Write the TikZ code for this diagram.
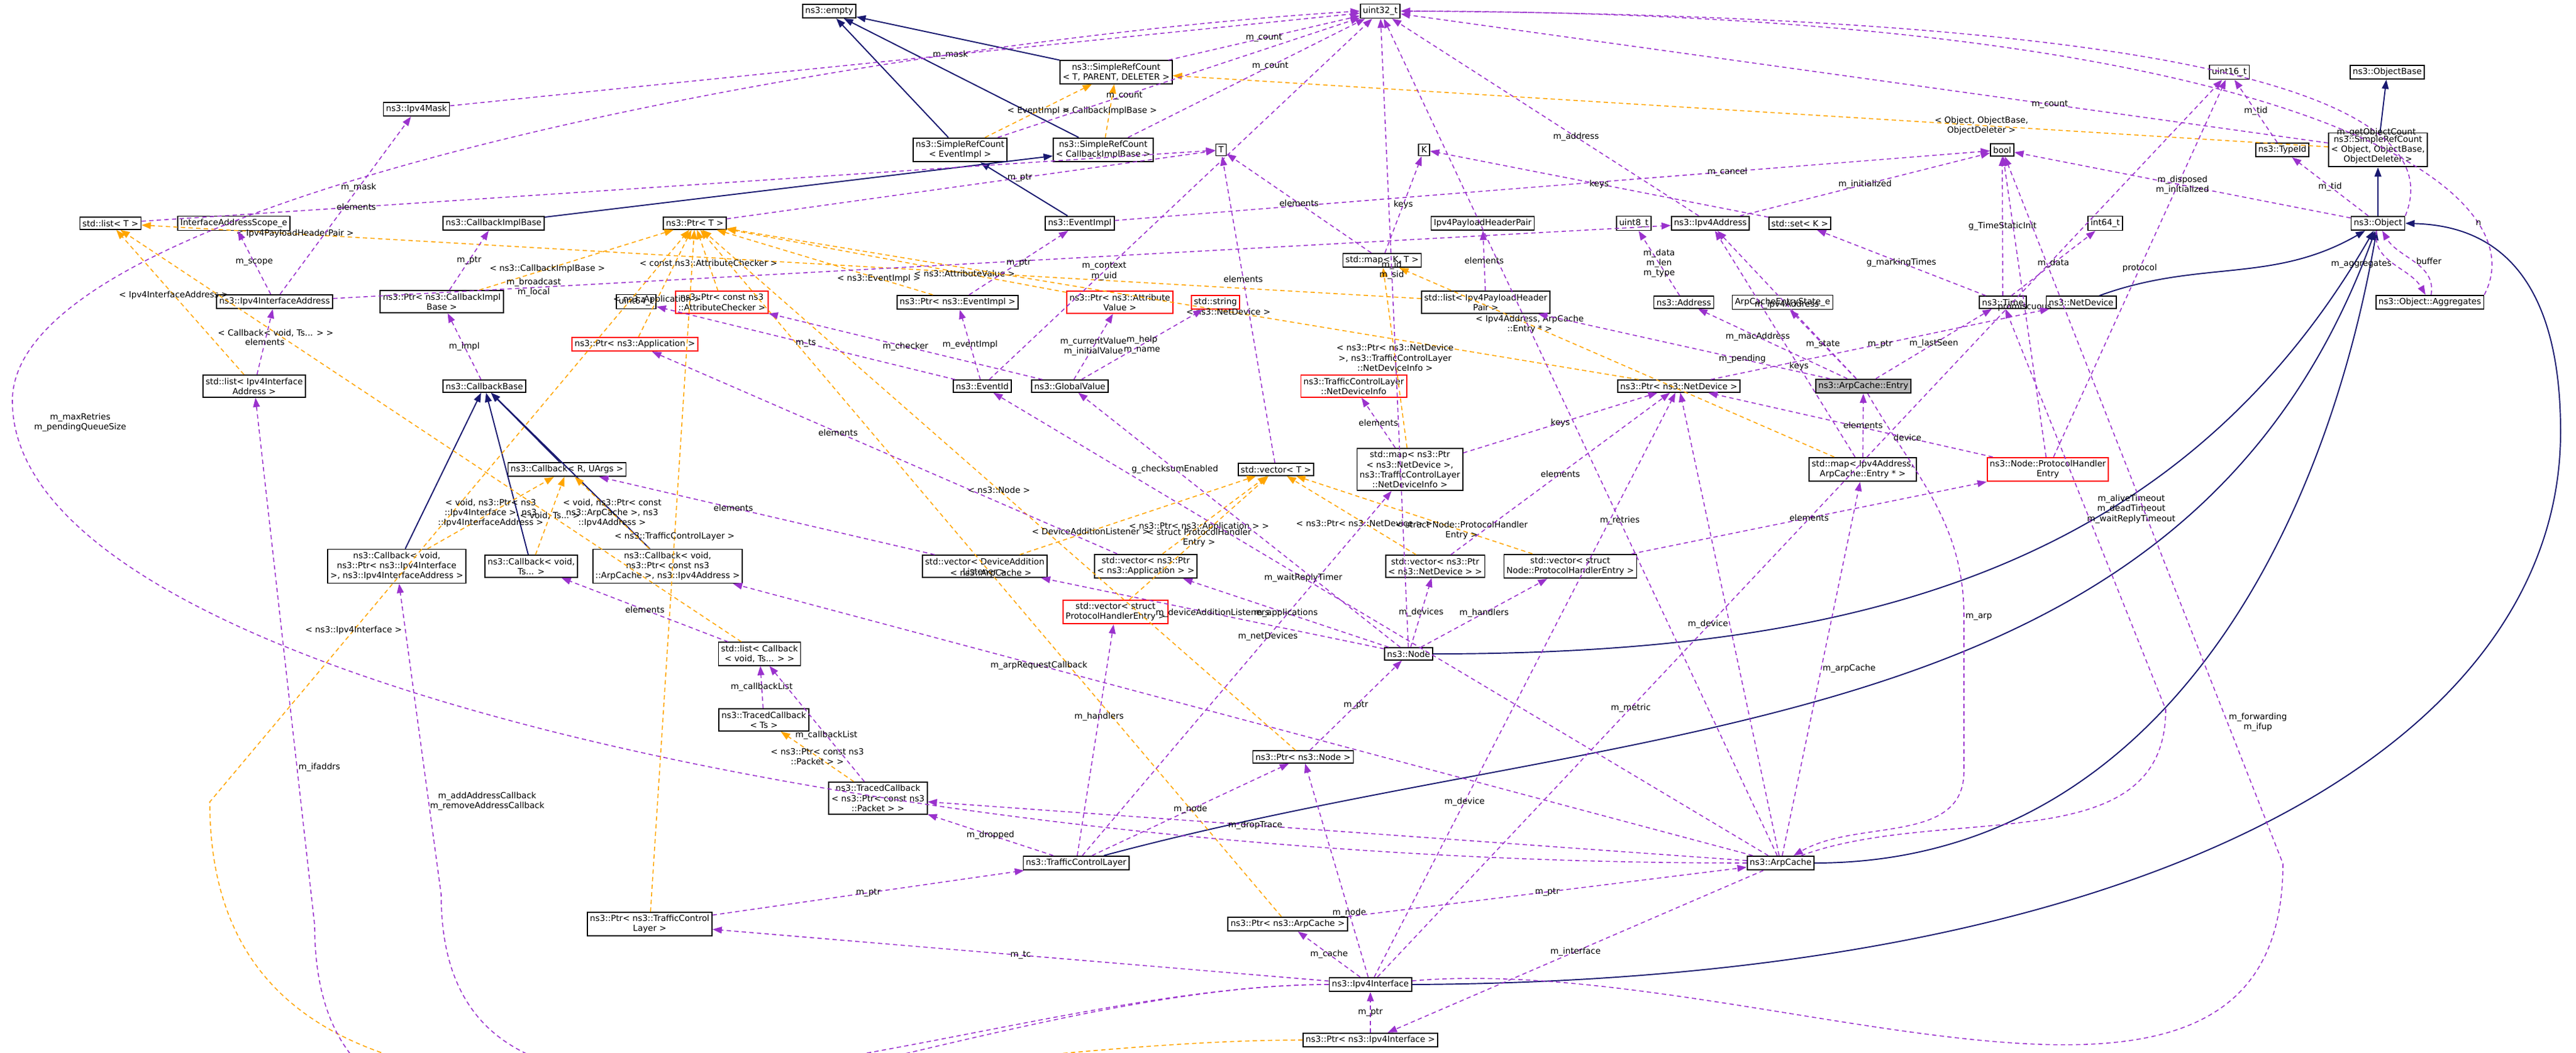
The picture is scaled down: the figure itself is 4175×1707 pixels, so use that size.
\documentclass[tikz,border=0pt]{standalone}
\usepackage{fontspec}
\setmainfont{DejaVu Sans}
\usetikzlibrary{arrows.meta}
\definecolor{mem}{HTML}{9A32CD}
\definecolor{inh}{HTML}{191970}
\definecolor{tpl}{HTML}{FFA500}
\begin{document}
\begin{tikzpicture}[x=0.01cm,y=-0.01cm,
  every node/.style={font=\fontsize{3.9}{4.6}\selectfont},
  box/.style={draw=black,fill=white,inner xsep=1.2pt,inner ysep=1.3pt,align=center,line width=0.5pt},
  redbox/.style={box,draw=red},
  tip/.style={-{Triangle[length=1.5mm,width=1.1mm]}},
  memb/.style={tip,draw=mem,dashed,line width=0.45pt,dash pattern=on 2pt off 1.5pt},
  tmpl/.style={tip,draw=tpl,dashed,line width=0.45pt,dash pattern=on 2pt off 1.5pt},
  inhr/.style={tip,draw=inh,line width=0.55pt},
  lb/.style={align=center,inner sep=0.5pt,text=black}]
\useasboundingbox (0,0) rectangle (4175,1707);
% nodes
\node[box] (empty) at (1344,18) {ns3::empty};
\node[box] (u32) at (2237,18) {uint32\_t};
\node[box] (srcT) at (1809,117) {ns3::SimpleRefCount\\< T, PARENT, DELETER >};
\node[box] (mask) at (675,177) {ns3::Ipv4Mask};
\node[box] (srcE) at (1556,243) {ns3::SimpleRefCount\\< EventImpl >};
\node[box] (srcC) at (1788,243) {ns3::SimpleRefCount\\< CallbackImplBase >};
\node[box] (T) at (1979,243) {T};
\node[box] (K) at (2308,243) {K};
\node[box] (bool) at (3245,243) {bool};
\node[box] (u16) at (3613,117) {uint16\_t};
\node[box] (obase) at (3869,117) {ns3::ObjectBase};
\node[box] (tid) at (3699,243) {ns3::TypeId};
\node[box] (srcO) at (3854,243) {ns3::SimpleRefCount\\< Object, ObjectBase,\\ ObjectDeleter >};
\node[box] (obj) at (3854,362) {ns3::Object};
\node[box] (listT) at (179,362) {std::list< T >};
\node[box] (scope) at (379,362) {InterfaceAddressScope\_e};
\node[box] (cbib) at (800,362) {ns3::CallbackImplBase};
\node[box] (ptrT) at (1126,362) {ns3::Ptr< T >};
\node[box] (evimpl) at (1750,362) {ns3::EventImpl};
\node[box] (pair) at (2403,362) {Ipv4PayloadHeaderPair};
\node[box] (u8) at (2648,362) {uint8\_t};
\node[box] (ip4) at (2772,362) {ns3::Ipv4Address};
\node[box] (setK) at (2917,362) {std::set< K >};
\node[box] (i64) at (3412,362) {int64\_t};
\node[box] (ifaddr) at (445,489) {ns3::Ipv4InterfaceAddress};
\node[box] (ptrcb) at (716,489) {ns3::Ptr< ns3::CallbackImpl\\Base >};
\node[box] (u64) at (1031,489) {uint64\_t};
\node[redbox] (ptrchk) at (1170,490) {ns3::Ptr< const ns3\\::AttributeChecker >};
\node[redbox] (ptrapp) at (1029,558) {ns3::Ptr< ns3::Application >};
\node[box] (ptrev) at (1552,490) {ns3::Ptr< ns3::EventImpl >};
\node[redbox] (ptrval) at (1815,490) {ns3::Ptr< ns3::Attribute\\Value >};
\node[redbox] (str) at (1970,490) {std::string};
\node[box] (mapKT) at (2240,422) {std::map< K, T >};
\node[box] (listpl) at (2408,490) {std::list< Ipv4PayloadHeader\\Pair >};
\node[box] (addr) at (2729,490) {ns3::Address};
\node[box] (state) at (2889,490) {ArpCacheEntryState\_e};
\node[box] (time) at (3246,490) {ns3::Time};
\node[box] (nd) at (3373,490) {ns3::NetDevice};
\node[box] (aggr) at (3938,490) {ns3::Object::Aggregates};
\node[box] (listif) at (412,626) {std::list< Ipv4Interface\\Address >};
\node[box] (cbase) at (785,626) {ns3::CallbackBase};
\node[box] (evid) at (1592,626) {ns3::EventId};
\node[box] (gv) at (1734,626) {ns3::GlobalValue};
\node[redbox] (ndinfo) at (2194,626) {ns3::TrafficControlLayer\\::NetDeviceInfo};
\node[box] (ptrnd) at (2721,626) {ns3::Ptr< ns3::NetDevice >};
\node[box,fill=black!28] (entry) at (3020,626) {ns3::ArpCache::Entry};
\node[box] (cbRU) at (919,761) {ns3::Callback< R, UArgs >};
\node[box] (vecT) at (2068,761) {std::vector< T >};
\node[box] (mapnd) at (2285,761) {std::map< ns3::Ptr\\< ns3::NetDevice >,\\ ns3::TrafficControlLayer\\::NetDeviceInfo >};
\node[box] (maparp) at (3019,761) {std::map< Ipv4Address,\\ArpCache::Entry * >};
\node[redbox] (phe) at (3319,761) {ns3::Node::ProtocolHandler\\Entry};
\node[box] (cbif) at (643,918) {ns3::Callback< void,\\ ns3::Ptr< ns3::Ipv4Interface\\ >, ns3::Ipv4InterfaceAddress >};
\node[box] (cbts) at (861,918) {ns3::Callback< void,\\ Ts... >};
\node[box] (cbarp) at (1082,918) {ns3::Callback< void,\\ ns3::Ptr< const ns3\\::ArpCache >, ns3::Ipv4Address >};
\node[box] (vdal) at (1596,918) {std::vector< DeviceAddition\\Listener >};
\node[box] (vapp) at (1857,918) {std::vector< ns3::Ptr\\< ns3::Application > >};
\node[box] (vnd) at (2326,918) {std::vector< ns3::Ptr\\< ns3::NetDevice > >};
\node[box] (vph) at (2545,918) {std::vector< struct\\ Node::ProtocolHandlerEntry >};
\node[redbox] (vphe) at (1808,992) {std::vector< struct\\ ProtocolHandlerEntry >};
\node[box] (listcb) at (1231,1060) {std::list< Callback\\< void, Ts... > >};
\node[box] (node) at (2283,1060) {ns3::Node};
\node[box] (tcts) at (1238,1167) {ns3::TracedCallback\\< Ts >};
\node[box] (ptrnode) at (2112,1227) {ns3::Ptr< ns3::Node >};
\node[box] (tcpkt) at (1423,1294) {ns3::TracedCallback\\< ns3::Ptr< const ns3\\::Packet > >};
\node[box] (tcl) at (1744,1399) {ns3::TrafficControlLayer};
\node[box] (arpc) at (2886,1399) {ns3::ArpCache};
\node[box] (ptrtcl) at (1053,1498) {ns3::Ptr< ns3::TrafficControl\\Layer >};
\node[box] (ptrarp) at (2087,1498) {ns3::Ptr< ns3::ArpCache >};
\node[box] (ipif) at (2221,1596) {ns3::Ipv4Interface};
\node[box] (ptrif) at (2221,1686) {ns3::Ptr< ns3::Ipv4Interface >};

% inheritance
\foreach \a/\b in {srcE/empty,srcC/empty,srcT/empty,evimpl/srcE,cbib/srcC,srcO/obase,obj/srcO,cbRU/cbase,cbif/cbase,cbts/cbase,cbarp/cbase}
  \draw[inhr] (\a) -- (\b);
\draw[inhr] (nd) to[out=20,in=-150] (obj);
\draw[inhr] (node) to[out=0,in=-120] (obj);
\draw[inhr] (tcl) to[out=15,in=-110] (obj);
\draw[inhr] (arpc) to[out=0,in=-100] (obj);
\draw[inhr] (ipif.east) .. controls (3500,1590) and (4150,1200) .. (4150,700) .. controls (4150,400) and (4000,365) .. (obj.east);

% templates
\newcommand{\tl}[4][0.5]{\draw[tmpl] (#2) -- node[lb,pos=#1]{#4} (#3);}
\tl{srcE}{srcT}{< EventImpl >}
\tl{srcC}{srcT}{< CallbackImplBase >}
\tl[0.3]{srcO}{srcT}{< Object, ObjectBase,\\ObjectDeleter >}
\tl[0.55]{listif}{listT}{< Ipv4InterfaceAddress >}
\tl[0.88]{listpl}{listT}{< Ipv4PayloadHeaderPair >}
\tl[0.75]{listcb}{listT}{< Callback< void, Ts... > >}
\tl[0.35]{ptrcb}{ptrT}{< ns3::CallbackImplBase >}
\tl[0.35]{ptrapp}{ptrT}{< ns3::Application >}
\tl[0.45]{ptrchk}{ptrT}{< const ns3::AttributeChecker >}
\tl[0.25]{ptrev}{ptrT}{< ns3::EventImpl >}
\tl[0.3]{ptrval}{ptrT}{< ns3::AttributeValue >}
\tl[0.45]{ptrnd}{ptrT}{< ns3::NetDevice >}
\tl[0.5]{ptrnode}{ptrT}{< ns3::Node >}
\tl[0.5]{ptrarp}{ptrT}{< ns3::ArpCache >}
\tl[0.55]{ptrtcl}{ptrT}{< ns3::TrafficControlLayer >}
\draw[tmpl] (ptrif) to[out=180,in=-90] (340,1300) -- node[lb,pos=0.3]{< ns3::Ipv4Interface >} (ptrT);
\tl{cbif}{cbRU}{< void, ns3::Ptr< ns3\\::Ipv4Interface >, ns3\\::Ipv4InterfaceAddress >}
\tl{cbts}{cbRU}{< void, Ts... >}
\tl{cbarp}{cbRU}{< void, ns3::Ptr< const\\ ns3::ArpCache >, ns3\\::Ipv4Address >}
\tl{tcpkt}{tcts}{< ns3::Ptr< const ns3\\::Packet > >}
\tl{mapnd}{mapKT}{< ns3::Ptr< ns3::NetDevice\\ >, ns3::TrafficControlLayer\\::NetDeviceInfo >}
\tl[0.7]{maparp}{mapKT}{< Ipv4Address, ArpCache\\::Entry * >}
\tl[0.3]{vdal}{vecT}{< DeviceAdditionListener >}
\tl[0.35]{vapp}{vecT}{< ns3::Ptr< ns3::Application > >}
\tl[0.5]{vphe}{vecT}{< struct ProtocolHandler\\Entry >}
\tl[0.4]{vnd}{vecT}{< ns3::Ptr< ns3::NetDevice > >}
\tl[0.3]{vph}{vecT}{< struct Node::ProtocolHandler\\Entry >}

% members
\newcommand{\ml}[4][0.5]{\draw[memb] (#2) -- node[lb,pos=#1]{#4} (#3);}
\ml[0.6]{ifaddr}{mask}{m\_mask}
\ml{ifaddr}{scope}{m\_scope}
\ml[0.15]{ifaddr}{ip4}{m\_broadcast\\m\_local}
\ml{listif}{ifaddr}{elements}
\ml[0.2]{listT}{T}{elements}
\ml[0.6]{ptrT}{T}{m\_ptr}
\ml{srcT}{u32}{m\_count}
\ml[0.35]{srcE}{u32}{m\_count}
\ml[0.6]{srcC}{u32}{m\_count}
\ml[0.3]{srcO}{u32}{m\_count}
\ml[0.55]{mask}{u32}{m\_mask}
\ml[0.4]{ip4}{u32}{m\_address}
\draw[memb] (obj.north east) .. controls (3980,150) and (3500,25) .. node[lb,pos=0.25]{m\_getObjectCount} (u32.east);
\draw[memb] (aggr.north east) .. controls (4120,300) and (3700,20) .. node[lb,pos=0.2]{n} (u32.east);
\ml[0.7]{evimpl}{bool}{m\_cancel}
\ml[0.3]{evid}{u32}{m\_context\\m\_uid}
\ml[0.4]{arpc}{u32}{m\_retries}
\draw[memb] (arpc.west) .. controls (1500,1400) and (20,1100) .. (20,650) .. controls (20,300) and (1500,60) .. (u32.west);
\node[lb] at (130,685) {m\_maxRetries\\m\_pendingQueueSize};
\ml[0.3]{ipif}{u16}{m\_metric}
\ml{phe}{u16}{protocol}
\ml{tid}{u16}{m\_tid}
\ml{obj}{tid}{m\_tid}
\ml{obj}{bool}{m\_disposed\\m\_initialized}
\draw[memb] (obj) to[out=-100,in=120] node[lb,pos=0.5,left]{m\_aggregates} (aggr);
\draw[memb] (aggr) to[out=80,in=-60] node[lb,pos=0.5,right]{buffer} (obj);
\ml{phe}{bool}{promiscuous}
\ml{ip4}{bool}{m\_initialized}
\ml[0.3]{phe}{ptrnd}{device}
\ml{time}{bool}{g\_TimeStaticInit}
\ml{time}{i64}{m\_data}
\ml{time}{setK}{g\_markingTimes}
\ml{setK}{K}{keys}
\ml{mapKT}{K}{keys}
\ml{mapKT}{T}{elements}
\ml[0.6]{vecT}{T}{elements}
\ml{entry}{ip4}{m\_ipv4Address}
\ml[0.6]{entry}{addr}{m\_macAddress}
\ml{entry}{state}{m\_state}
\ml{entry}{time}{m\_lastSeen}
\ml[0.3]{entry}{listpl}{m\_pending}
\draw[memb] (entry) to[out=-60,in=90] (3183,1000) node[lb,right]{m\_arp} -- (3183,1250) to[out=-90,in=30] (arpc);
\draw[memb] (arpc) -- node[lb,pos=0.5,right]{m\_arpCache} (maparp);
\draw[memb] (arpc) -- node[lb,pos=0.5,left]{m\_device} (ptrnd);
\draw[memb] (arpc) to[out=20,in=-90] (3510,1150) -- node[lb,right]{m\_aliveTimeout\\m\_deadTimeout\\m\_waitReplyTimeout} (time);
\ml{arpc}{ptrif}{m\_interface}
\draw[memb] (ipif) to[out=5,in=-90] (3700,1400) node[lb,right,yshift=-200]{} -- node[lb,right,pos=0.2]{m\_forwarding\\m\_ifup} (bool);
\ml[0.3]{ipif}{ptrnd}{m\_device}
\ml{ipif}{ptrarp}{m\_cache}
\ml[0.3]{ipif}{ptrnode}{m\_node}
\ml{ipif}{ptrtcl}{m\_tc}
\draw[memb] (ipif) to[out=180,in=-90] (510,1500) -- node[lb,right,pos=0.3]{m\_ifaddrs} (listif);
\draw[memb] (ipif) to[out=180,in=-90] (715,1450) -- node[lb,right,pos=0.3]{m\_addAddressCallback\\m\_removeAddressCallback} (cbif);
\ml{ptrif}{ipif}{m\_ptr}
\ml{ptrarp}{arpc}{m\_ptr}
\ml{ptrtcl}{tcl}{m\_ptr}
\ml{ptrnode}{node}{m\_ptr}
\ml{tcl}{ptrnode}{m\_node}
\ml[0.6]{tcl}{mapnd}{m\_netDevices}
\ml[0.6]{tcl}{vphe}{m\_handlers}
\ml{tcl}{tcpkt}{m\_dropped}
\ml[0.6]{arpc}{tcpkt}{m\_dropTrace}
\ml[0.7]{arpc}{cbarp}{m\_arpRequestCallback}
\ml[0.6]{arpc}{evid}{m\_waitReplyTimer}
\ml{node}{vdal}{m\_deviceAdditionListeners}
\ml{node}{vapp}{m\_applications}
\ml{node}{vnd}{m\_devices}
\ml{node}{vph}{m\_handlers}
\ml[0.6]{node}{u32}{m\_id\\m\_sid}
\ml[0.7]{node}{gv}{g\_checksumEnabled}
\ml{vnd}{ptrnd}{elements}
\ml[0.6]{vapp}{ptrapp}{elements}
\ml[0.6]{vdal}{cbRU}{elements}
\ml{vph}{phe}{elements}
\ml{mapnd}{ptrnd}{keys}
\ml{mapnd}{ndinfo}{elements}
\ml[0.4]{maparp}{ip4}{keys}
\ml{maparp}{entry}{elements}
\ml{listpl}{pair}{elements}
\ml{addr}{u8}{m\_data\\m\_len\\m\_type}
\ml{listcb}{cbts}{elements}
\ml{tcts}{listcb}{m\_callbackList}
\ml[0.4]{tcpkt}{listcb}{m\_callbackList}
\ml{ptrcb}{cbib}{m\_ptr}
\ml{cbase}{ptrcb}{m\_impl}
\ml{ptrev}{evimpl}{m\_ptr}
\ml{evid}{ptrev}{m\_eventImpl}
\ml{gv}{ptrchk}{m\_checker}
\ml{gv}{ptrval}{m\_currentValue\\m\_initialValue}
\ml{gv}{str}{m\_help\\m\_name}
\ml{evid}{u64}{m\_ts}
\ml{ptrnd}{nd}{m\_ptr}
\end{tikzpicture}
\end{document}
